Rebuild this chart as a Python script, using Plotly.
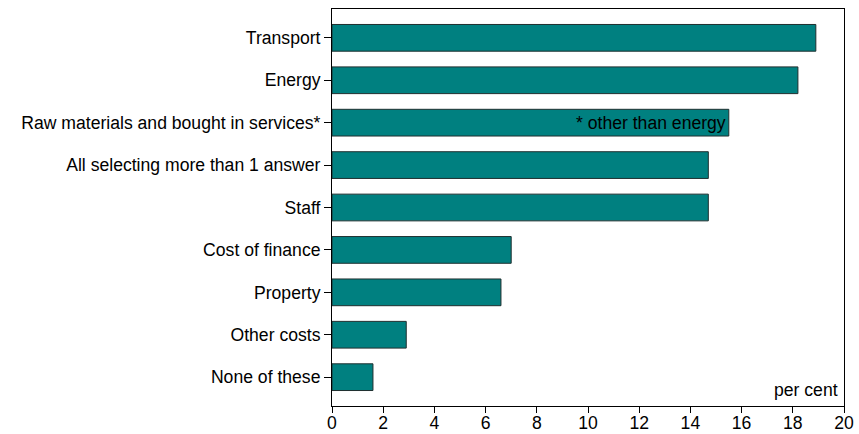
import plotly.graph_objects as go

categories = [
    "Transport",
    "Energy",
    "Raw materials and bought in services*",
    "All selecting more than 1 answer",
    "Staff",
    "Cost of finance",
    "Property",
    "Other costs",
    "None of these",
]
values = [18.9, 18.2, 15.5, 14.7, 14.7, 7.0, 6.6, 2.9, 1.6]
x_ticks = [0, 2, 4, 6, 8, 10, 12, 14, 16, 18, 20]
note_text = "* other than energy"
unit_text = "per cent"

FONT = "Liberation Sans, Arial, sans-serif"
FS = 17.6

fig = go.Figure(
    go.Bar(
        x=values,
        y=categories,
        orientation="h",
        marker=dict(color="#008080", line=dict(color="#1f2f2f", width=1)),
        hoverinfo="skip",
    )
)

n = len(categories)
fig.update_layout(
    width=859,
    height=434,
    margin=dict(l=332, r=15, t=9, b=27.5, pad=0),
    paper_bgcolor="white",
    plot_bgcolor="white",
    bargap=0.37,
    showlegend=False,
    font=dict(family=FONT, size=FS, color="black"),
    xaxis=dict(
        range=[0, 20],
        tickvals=x_ticks,
        ticks="outside",
        ticklen=6,
        tickcolor="black",
        showgrid=False,
        zeroline=False,
        showline=True,
        linecolor="black",
        linewidth=1,
        mirror=True,
        automargin=False,
        ticklabelstandoff=-5,
        tickfont=dict(family=FONT, size=FS, color="black"),
    ),
    yaxis=dict(
        type="category",
        categoryorder="array",
        categoryarray=categories,
        range=[n - 1 + 0.68, -0.68],
        ticks="outside",
        ticklen=7,
        tickcolor="black",
        showgrid=False,
        zeroline=False,
        showline=True,
        linecolor="black",
        linewidth=1,
        mirror=True,
        automargin=False,
        ticklabelstandoff=0,
        tickfont=dict(family=FONT, size=FS, color="black"),
    ),
    annotations=[
        dict(
            x=values[2],
            y=categories[2],
            xref="x",
            yref="y",
            text=note_text,
            showarrow=False,
            xanchor="right",
            yanchor="middle",
            xshift=-1,
            font=dict(family=FONT, size=FS, color="black"),
        ),
        dict(
            x=1,
            y=0,
            xref="paper",
            yref="paper",
            text=unit_text,
            showarrow=False,
            xanchor="right",
            yanchor="bottom",
            xshift=-4,
            yshift=4,
            font=dict(family=FONT, size=FS, color="black"),
        ),
    ],
)

fig.write_html(
    "out.html",
    config={"displayModeBar": False},
    post_script="document.body.style.margin='0';document.body.style.overflow='hidden';",
)
